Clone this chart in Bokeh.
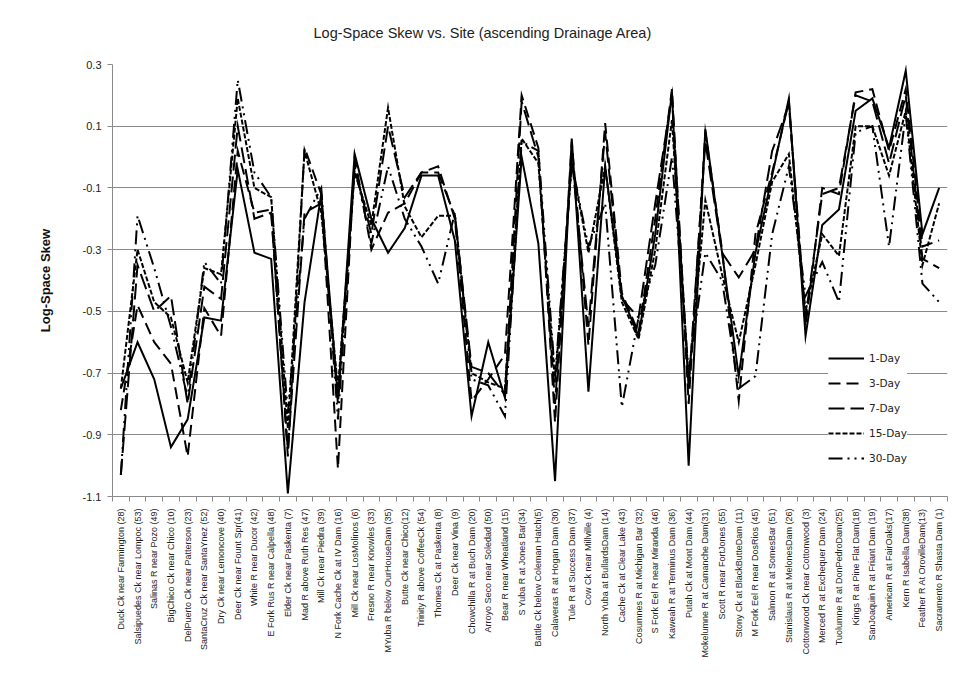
import math
from bokeh.plotting import figure
from bokeh.models import Range1d, FixedTicker, PrintfTickFormatter, Legend, LegendItem
from bokeh.embed import file_html
from bokeh.resources import INLINE

sites = [
    "Duck Ck near Farmington (28)", "Salsipuedes Ck near Lompoc (53)", "Salinas R near Pozo (49)",
    "BigChico Ck near Chico (10)", "DelPuerto Ck near Patterson (23)", "SantaCruz Ck near SantaYnez (52)",
    "Dry Ck near Lemoncove (40)", "Deer Ck near Fount Spr(41)", "White R near Ducor (42)",
    "E Fork Rus R near Calpella (48)", "Elder Ck near Paskenta (7)", "Mad R above Ruth Res (47)",
    "Mill Ck near Piedra (39)", "N Fork Cache Ck at IV Dam (16)", "Mill Ck near LosMolinos (6)",
    "Fresno R near Knowles (33)", "MYuba R below OurHouseDam (35)", "Butte Ck near Chico(12)",
    "Trinity R above CoffeeCk (54)", "Thomes Ck at Paskenta (8)", "Deer Ck near Vina (9)",
    "Chowchilla R at Buch Dam (20)", "Arroyo Seco near Soledad (50)", "Bear R near Wheatland (15)",
    "S Yuba R at Jones Bar(34)", "Battle Ck below Coleman Hatch(5)", "Calaveras R at Hogan Dam (30)",
    "Tule R at Success Dam (37)", "Cow Ck near Millville (4)", "North Yuba at BullardsDam (14)",
    "Cache Ck at Clear Lake (43)", "Cosumnes R at Michigan Bar (32)", "S Fork Eel R near Miranda (46)",
    "Kaweah R at Terminus Dam (36)", "Putah Ck at Mont Dam (44)", "Mokelumne R at Camanche Dam(31)",
    "Scott R near FortJones (55)", "Stony Ck at BlackButteDam (11)", "M Fork Eel R near DosRios (45)",
    "Salmon R at SomesBar (51)", "Stanislaus R at MelonesDam (26)", "Cottonwood Ck near Cottonwood (3)",
    "Merced R at Exchequer Dam (24)", "Tuolumne R at DonPedroDam(25)", "Kings R at Pine Flat Dam(18)",
    "SanJoaquin R at Friant Dam (19)", "American R at FairOaks(17)", "Kern R Isabella Dam(38)",
    "Feather R At OrovilleDam(13)", "Sacramento R Shasta Dam (1)",
]

day1 = [-0.75, -0.60, -0.72, -0.94, -0.85, -0.52, -0.53, -0.04, -0.31, -0.33,
        -1.09, -0.47, -0.12, -0.78, 0.01, -0.20, -0.31, -0.23, -0.06, -0.06,
        -0.27, -0.84, -0.60, -0.78, 0.00, -0.28, -1.05, 0.06, -0.76, -0.03,
        -0.45, -0.58, -0.25, 0.21, -1.00, 0.09, -0.31, -0.71, -0.31, -0.06,
        0.19, -0.58, -0.22, -0.17, 0.15, 0.19, 0.03, 0.28, -0.25, -0.10]
day3 = [-0.82, -0.48, -0.60, -0.67, -0.97, -0.49, -0.58, 0.02, -0.18, -0.17,
        -0.97, 0.03, -0.12, -1.01, 0.00, -0.30, -0.18, -0.15, -0.05, -0.03,
        -0.20, -0.79, -0.72, -0.64, 0.20, 0.03, -0.86, 0.05, -0.61, 0.11,
        -0.44, -0.57, -0.20, 0.22, -0.80, 0.08, -0.30, -0.79, -0.25, -0.05,
        0.18, -0.55, -0.10, -0.12, 0.21, 0.22, 0.02, 0.22, -0.29, -0.27]
day7 = [-1.03, -0.35, -0.50, -0.45, -0.80, -0.42, -0.46, 0.10, -0.20, -0.18,
        -0.95, -0.18, -0.15, -0.80, -0.03, -0.25, 0.10, -0.13, -0.05, -0.05,
        -0.19, -0.68, -0.70, -0.77, 0.18, 0.00, -0.80, 0.00, -0.55, 0.08,
        -0.46, -0.52, -0.15, 0.20, -0.75, 0.05, -0.31, -0.39, -0.30, 0.02,
        0.17, -0.52, -0.12, -0.10, 0.20, 0.18, -0.02, 0.20, -0.33, -0.36]
day15 = [-0.75, -0.30, -0.47, -0.52, -0.73, -0.36, -0.38, 0.19, -0.10, -0.13,
         -0.88, 0.02, -0.18, -0.75, -0.05, -0.22, 0.16, -0.16, -0.26, -0.19,
         -0.19, -0.70, -0.73, -0.75, 0.06, -0.02, -0.73, -0.02, -0.31, -0.03,
         -0.47, -0.59, -0.30, 0.12, -0.72, -0.14, -0.38, -0.60, -0.35, -0.08,
         0.01, -0.50, -0.25, -0.32, 0.10, 0.10, -0.06, 0.15, -0.35, -0.15]
day30 = [-1.03, -0.19, -0.36, -0.55, -0.78, -0.34, -0.41, 0.25, -0.05, -0.13,
         -0.83, -0.20, -0.10, -0.85, -0.03, -0.28, -0.03, -0.20, -0.29, -0.41,
         -0.18, -0.72, -0.74, -0.84, 0.05, 0.02, -0.71, -0.02, -0.29, -0.15,
         -0.81, -0.52, -0.35, 0.00, -0.70, -0.31, -0.40, -0.75, -0.71, -0.25,
         -0.03, -0.45, -0.34, -0.47, 0.08, 0.10, -0.29, 0.14, -0.41, -0.47]

series_names = ["1-Day", "3-Day", "7-Day", "15-Day", "30-Day"]
series_vals = [day1, day3, day7, day15, day30]
dashes = ["solid", "12 6", "16 6", "5 2", "14 5 2 5 2 5"]

y_ticks = [-1.1, -0.9, -0.7, -0.5, -0.3, -0.1, 0.1, 0.3]

n = len(sites)
xs = [i + 0.5 for i in range(n)]

p = figure(width=953, height=692, output_backend="svg", toolbar_location=None,
           x_range=Range1d(0, n), y_range=Range1d(-1.1, 0.3),
           min_border_left=112, min_border_right=6, min_border_top=64, min_border_bottom=196)

p.title.text = "Log-Space Skew vs. Site (ascending Drainage Area)"
p.title.align = "left"
p.title.vertical_align = "top"
p.title.text_font = "Liberation Sans"
p.title.text_font_size = "14.5px"
p.title.text_font_style = "normal"
p.title.text_color = "#222222"
p.title.offset = 201
p.title.standoff = 44

p.outline_line_color = None
p.xgrid.grid_line_color = None
p.ygrid.grid_line_color = "#8a8a8a"
p.ygrid.grid_line_width = 1

# y axis
p.yaxis.ticker = FixedTicker(ticks=y_ticks)
p.yaxis.formatter = PrintfTickFormatter(format="%.1f")
p.yaxis.axis_label = "Log-Space Skew"
p.yaxis.axis_label_text_font = "Liberation Sans"
p.yaxis.axis_label_text_font_size = "13px"
p.yaxis.axis_label_text_font_style = "bold"
p.yaxis.axis_label_text_color = "#111111"
p.yaxis.axis_label_standoff = 27
p.yaxis.major_label_text_font = "Liberation Sans"
p.yaxis.major_label_text_font_size = "11px"
p.yaxis.major_label_text_color = "#222222"
p.yaxis.major_label_standoff = 6
p.yaxis.major_tick_out = 5
p.yaxis.major_tick_in = 0
p.yaxis.minor_tick_out = 0
p.yaxis.minor_tick_in = 0
p.yaxis.axis_line_color = "#8a8a8a"
p.yaxis.major_tick_line_color = "#8a8a8a"

# x axis: labels at centers, tick marks at boundaries
p.xaxis.ticker = FixedTicker(ticks=xs, minor_ticks=list(range(n + 1)))
p.xaxis.major_label_overrides = {x: s for x, s in zip(xs, sites)}
p.xaxis.major_label_orientation = math.pi / 2
p.xaxis.major_label_text_font = "Liberation Sans"
p.xaxis.major_label_text_font_size = "9px"
p.xaxis.major_label_text_color = "#222222"
p.xaxis.major_label_standoff = 7
p.xaxis.major_tick_out = 0
p.xaxis.major_tick_in = 0
p.xaxis.minor_tick_out = 5
p.xaxis.minor_tick_in = 0
p.xaxis.minor_tick_line_color = "#8a8a8a"
p.xaxis.axis_line_color = "#8a8a8a"

items = []
for name, vals, d in zip(series_names, series_vals, dashes):
    r = p.line(xs, vals, line_color="black", line_width=2, line_dash=d, line_join="miter")
    items.append(LegendItem(label=name, renderers=[r]))

legend = Legend(items=items, location=(716, 28), orientation="vertical",
                glyph_width=36, glyph_height=20, spacing=5, padding=10, margin=0,
                label_standoff=5, label_text_font="DejaVu Sans", label_text_font_size="10.5px",
                label_text_color="#222222", background_fill_color="white", background_fill_alpha=1.0,
                border_line_color=None)
p.add_layout(legend, "center")

open("out.html", "w").write(file_html(p, INLINE))
